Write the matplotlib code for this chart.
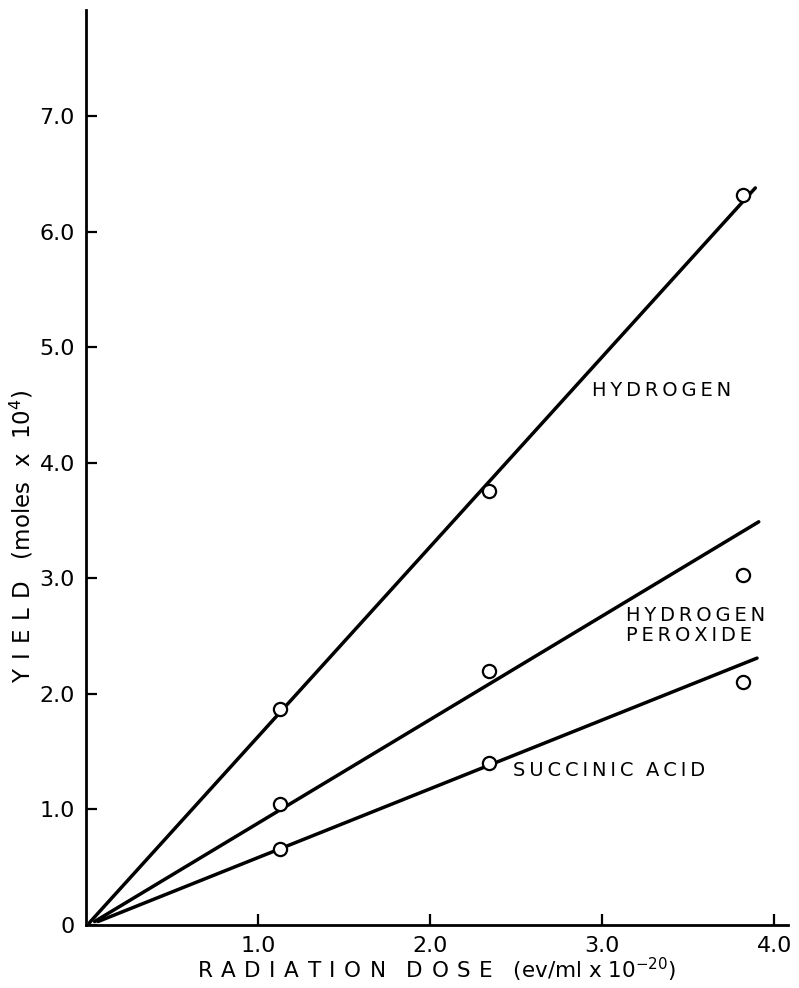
import matplotlib
matplotlib.use("Agg")
import matplotlib.pyplot as plt

# Radiation dose (ev/ml x 10^-20) at which samples were taken
dose = [1.13, 2.34, 3.82]

# Measured yields (moles x 10^4)
hydrogen = [1.87, 3.76, 6.32]
peroxide = [1.05, 2.20, 3.03]
succinic = [0.66, 1.40, 2.10]

# Straight-line fits: (dose, yield) at each end
hydrogen_fit = ([0.02, 3.89], [0.02, 6.38])
peroxide_fit = ([0.05, 3.91], [0.03, 3.49])
succinic_fit = ([0.07, 3.90], [0.03, 2.31])

x_ticks = [1.0, 2.0, 3.0, 4.0]
x_tick_labels = ["1.0", "2.0", "3.0", "4.0"]
y_ticks = [0, 1.0, 2.0, 3.0, 4.0, 5.0, 6.0, 7.0]
y_tick_labels = ["0", "1.0", "2.0", "3.0", "4.0", "5.0", "6.0", "7.0"]

SP = "\u2009"


def spaced(s, gap=SP):
    return gap.join(s)


plt.rcParams["font.family"] = ["DejaVu Sans"]
plt.rcParams["mathtext.fontset"] = "dejavusans"
fig = plt.figure(figsize=(7.99, 9.88), dpi=100)
ax = fig.add_axes([86 / 799, 1 - 925 / 988, 702 / 799, 915 / 988])

for fx, fy in (hydrogen_fit, peroxide_fit, succinic_fit):
    ax.plot(fx, fy, color="black", lw=2.5, solid_capstyle="round", zorder=2)

for ys in (hydrogen, peroxide, succinic):
    ax.plot(dose, ys, linestyle="none", marker="o", markersize=9.5,
            markerfacecolor="white", markeredgecolor="black",
            markeredgewidth=1.6, zorder=3)

ax.set_xlim(0, 4.08)
ax.set_ylim(0, 7.92)

for side in ("top", "right"):
    ax.spines[side].set_visible(False)
for side in ("left", "bottom"):
    ax.spines[side].set_linewidth(2.0)

ax.set_xticks(x_ticks)
ax.set_xticklabels(x_tick_labels)
ax.set_yticks(y_ticks)
ax.set_yticklabels(y_tick_labels)
ax.tick_params(axis="both", direction="in", length=8, width=1.6,
               labelsize=16, pad=8)

ax.set_xlabel(spaced("RADIATION", SP * 2) + "   " + spaced("DOSE", SP * 2)
              + "   (ev/ml x 10$^{-20}$)", fontsize=15.5, labelpad=0)
ax.set_ylabel(spaced("YIELD", SP * 2) + "   (moles  x  10$^{4}$)", fontsize=16.5)
ax.yaxis.set_label_coords(-0.072, 0.425)

ax.text(2.94, 4.63, spaced("HYDROGEN"), fontsize=14, ha="left", va="center")
ax.text(3.14, 2.59, spaced("HYDROGEN") + "\n" + spaced("PEROXIDE"), fontsize=14,
        ha="left", va="center", linespacing=1.05)
ax.text(2.48, 1.34, spaced("SUCCINIC") + "  " + spaced("ACID"), fontsize=14,
        ha="left", va="center")

fig.savefig("out.png", dpi=100, facecolor="white")
